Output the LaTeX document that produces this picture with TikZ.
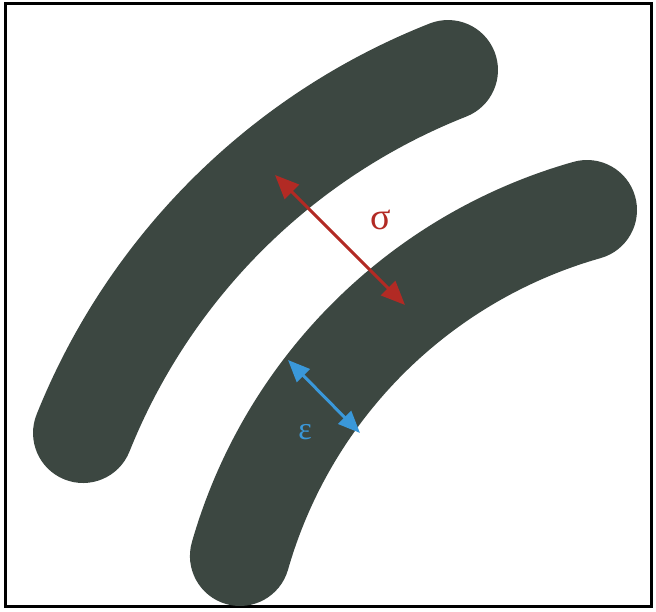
\documentclass[tikz,border=0pt]{standalone}
\usepackage{fontspec}
\setmainfont{Liberation Serif}
\usepackage{tikz}
\usetikzlibrary{arrows.meta, positioning}

\definecolor{bandgray}{RGB}{60,71,65}
\definecolor{sigred}{RGB}{178,42,36}
\definecolor{epsblue}{RGB}{58,152,218}

\begin{document}
\begin{tikzpicture}[
    x=1pt, y=1pt,
    band/.style={draw=bandgray, line width=100pt, line cap=round},
    sigarrow/.style={draw=sigred, line width=3pt, {Triangle[length=24pt,width=20pt]}-{Triangle[length=24pt,width=20pt]}},
    epsarrow/.style={draw=epsblue, line width=3pt, {Triangle[length=22pt,width=18pt]}-{Triangle[length=22pt,width=18pt]}}
]
    \useasboundingbox (0,0) rectangle (656,612);

    % Frame
    \draw[line width=3pt] (5,5) rectangle (651,608);

    % Bands (arcs)
    \coordinate (ctrA) at (686.4,-62.7);
    \coordinate (ctrB) at (724,-82.5);
    \draw[band] ([shift={(158.17:650)}]ctrA) arc[start angle=158.17, end angle=111.52, radius=650pt];
    \draw[band] ([shift={(164.03:503.5)}]ctrB) arc[start angle=164.03, end angle=105.79, radius=503.5pt];

    % Spacing sigma
    \coordinate (sigTop) at (275,437);
    \coordinate (sigBot) at (405,307);
    \draw[sigarrow] (sigTop) -- (sigBot);
    \node[text=sigred, font=\fontsize{38}{44}\selectfont] (sigmaLabel) at (381,392) {σ};

    % Width epsilon
    \coordinate (epsTop) at (288,252);
    \coordinate (epsBot) at (360,179);
    \draw[epsarrow] (epsTop) -- (epsBot);
    \node[text=epsblue, font=\fontsize{32}{38}\selectfont] (epsLabel) at (305,180) {ε};
\end{tikzpicture}
\end{document}
